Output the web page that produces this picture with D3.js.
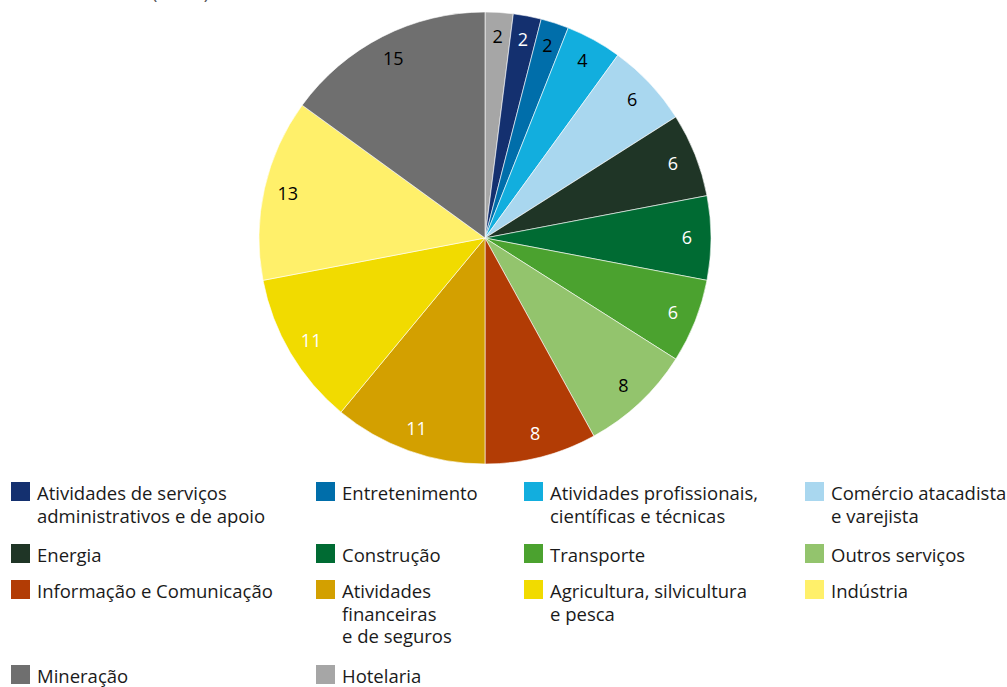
<!DOCTYPE html>
<html>
<head>
<meta charset="utf-8">
<script src="https://cdn.jsdelivr.net/npm/d3@7"></script>
<style>
  html, body { margin: 0; padding: 0; background: #fff; }
  svg { display: block; font-family: "Open Sans", "Noto Sans", sans-serif; }
</style>
</head>
<body>
<svg id="chart" width="1007" height="687"></svg>
<script>
// Pie order, clockwise from 12 o'clock
const categories = [
  "Hotelaria",
  "Atividades de serviços administrativos e de apoio",
  "Entretenimento",
  "Atividades profissionais, científicas e técnicas",
  "Comércio atacadista e varejista",
  "Energia",
  "Construção",
  "Transporte",
  "Outros serviços",
  "Informação e Comunicação",
  "Atividades financeiras e de seguros",
  "Agricultura, silvicultura e pesca",
  "Indústria",
  "Mineração"
];
const values = [2, 2, 2, 4, 6, 6, 6, 6, 8, 8, 11, 11, 13, 15];

// Legend order (row by row, four columns) and wrapped legend lines
const legendOrder = [
  "Atividades de serviços administrativos e de apoio",
  "Entretenimento",
  "Atividades profissionais, científicas e técnicas",
  "Comércio atacadista e varejista",
  "Energia",
  "Construção",
  "Transporte",
  "Outros serviços",
  "Informação e Comunicação",
  "Atividades financeiras e de seguros",
  "Agricultura, silvicultura e pesca",
  "Indústria",
  "Mineração",
  "Hotelaria"
];
const legendLines = {
  "Atividades de serviços administrativos e de apoio": ["Atividades de serviços", "administrativos e de apoio"],
  "Entretenimento": ["Entretenimento"],
  "Atividades profissionais, científicas e técnicas": ["Atividades profissionais,", "científicas e técnicas"],
  "Comércio atacadista e varejista": ["Comércio atacadista", "e varejista"],
  "Energia": ["Energia"],
  "Construção": ["Construção"],
  "Transporte": ["Transporte"],
  "Outros serviços": ["Outros serviços"],
  "Informação e Comunicação": ["Informação e Comunicação"],
  "Atividades financeiras e de seguros": ["Atividades", "financeiras", "e de seguros"],
  "Agricultura, silvicultura e pesca": ["Agricultura, silvicultura", "e pesca"],
  "Indústria": ["Indústria"],
  "Mineração": ["Mineração"],
  "Hotelaria": ["Hotelaria"]
};
const subtitle = "(em %)";

// Styles
const colors = ["#a6a6a6", "#14306f", "#006eaa", "#12aede", "#a9d7ef", "#1f3526",
                "#006b33", "#4ba22f", "#93c46d", "#b23c05", "#d3a000", "#f1db00",
                "#fff06a", "#6f6f6f"];
const labelColors = ["#000", "#fff", "#000", "#000", "#000", "#fff", "#fff", "#fff",
                     "#000", "#fff", "#fff", "#fff", "#000", "#000"];

const svg = d3.select("#chart");
const cx = 485, cy = 238, R = 226, labelR = 202;

const color = d3.scaleOrdinal().domain(categories).range(colors);
const labelColor = d3.scaleOrdinal().domain(categories).range(labelColors);

const data = categories.map((c, i) => ({ cat: c, value: values[i] }));
const pie = d3.pie().value(d => d.value).sort(null);
const arcs = pie(data);
const arc = d3.arc().innerRadius(0).outerRadius(R);
const labelArc = d3.arc().innerRadius(labelR).outerRadius(labelR);

// subtitle (cut at top edge, as in the reference)
svg.append("text")
  .attr("x", 152).attr("y", -1)
  .attr("font-size", 18).attr("fill", "#555")
  .text(subtitle);

const g = svg.append("g").attr("transform", `translate(${cx},${cy})`);
g.selectAll("path.slice").data(arcs).join("path")
  .attr("class", "slice")
  .attr("d", arc)
  .attr("fill", d => color(d.data.cat))
  .attr("stroke", "#fff")
  .attr("stroke-width", 0.6);

g.selectAll("text.lbl").data(arcs).join("text")
  .attr("class", "lbl")
  .attr("transform", d => `translate(${labelArc.centroid(d)})`)
  .attr("text-anchor", "middle")
  .attr("dy", "0.36em")
  .attr("font-size", 18)
  .attr("fill", d => labelColor(d.data.cat))
  .text(d => d.data.value);

// Legend
const colX = [11, 316, 524, 805];
const rowY = [500, 562, 598, 683];
const sq = 19, lineH = 22.5, textOff = 26;
const leg = svg.append("g").attr("font-size", 18.5).attr("fill", "#1a1a1a");
legendOrder.forEach((name, i) => {
  const col = i % 4, row = Math.floor(i / 4);
  const x = colX[col], y = rowY[row];
  const item = leg.append("g");
  item.append("rect")
    .attr("x", x).attr("y", y - 18)
    .attr("width", sq).attr("height", sq)
    .attr("fill", color(name));
  const t = item.append("text").attr("x", x + textOff).attr("y", y);
  legendLines[name].forEach((ln, j) => {
    t.append("tspan").attr("x", x + textOff).attr("y", y + j * lineH).text(ln);
  });
});
</script>
</body>
</html>
